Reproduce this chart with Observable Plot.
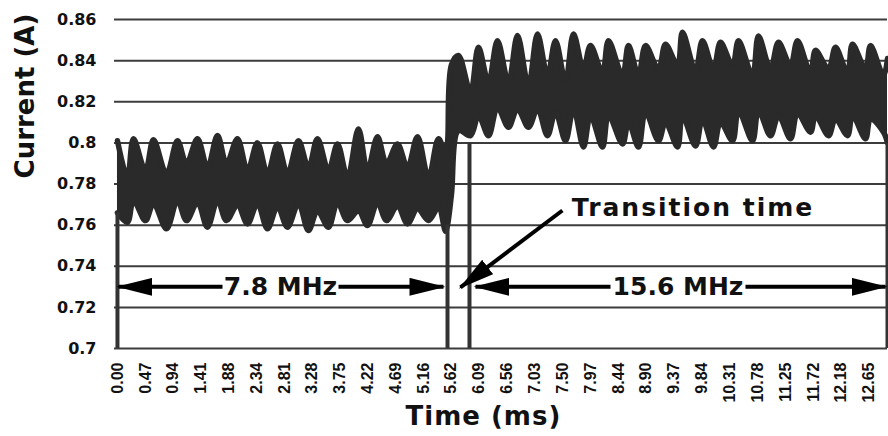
<!DOCTYPE html>
<html>
<head>
<meta charset="utf-8">
<script src="https://cdn.jsdelivr.net/npm/d3@7"></script>
<script src="https://cdn.jsdelivr.net/npm/@observablehq/plot@0.6"></script>
<style>
  body { margin: 0; background: #fff; }
  #chart svg { display: block; }
</style>
</head>
<body>
<div id="chart"></div>
<script>
// ---- Data ----
// Time (ms) of each envelope sample (alternating lobe / notch of the oscillation)
const timeMs = [
  0, 0.168, 0.269, 0.471, 0.606, 0.825, 1.010, 1.162, 1.347, 1.515,
  1.684, 1.835, 2.020, 2.189, 2.357, 2.525, 2.694, 2.862, 3.047, 3.215,
  3.367, 3.552, 3.704, 3.872, 4.057, 4.209, 4.377, 4.529, 4.714, 4.882,
  5.051, 5.236, 5.404, 5.522,
  5.556, 5.623,
  5.741, 5.943, 6.077, 6.246, 6.397, 6.582, 6.734, 6.919, 7.071, 7.239,
  7.374, 7.542, 7.677, 7.845, 7.963, 8.165, 8.266, 8.502, 8.603, 8.771,
  8.889, 9.108, 9.226, 9.428, 9.512, 9.731, 9.848, 10.034, 10.152, 10.354,
  10.455, 10.690, 10.791, 10.993, 11.128, 11.330, 11.448, 11.667, 11.751, 11.970,
  12.088, 12.290, 12.374, 12.593, 12.677, 12.896, 12.963
];
// Upper envelope of the current (A)
const upperA = [
  0.801, 0.7833, 0.802, 0.7866, 0.8015, 0.785, 0.801, 0.790, 0.802, 0.788,
  0.8036, 0.790, 0.802, 0.7866, 0.800, 0.785, 0.7995, 0.785, 0.801, 0.788,
  0.802, 0.7866, 0.7995, 0.7833, 0.8068, 0.7866, 0.803, 0.790, 0.7995, 0.788,
  0.803, 0.7833, 0.802, 0.795,
  0.800, 0.838,
  0.8425, 0.8247, 0.8465, 0.8295, 0.8497, 0.8295, 0.8522, 0.828, 0.853, 0.8328,
  0.8497, 0.830, 0.853, 0.836, 0.8473, 0.8343, 0.8497, 0.8328, 0.8473, 0.8328,
  0.8473, 0.836, 0.848, 0.8377, 0.8538, 0.835, 0.8497, 0.836, 0.8489, 0.8377,
  0.8497, 0.8328, 0.852, 0.836, 0.8489, 0.8377, 0.8497, 0.834, 0.845, 0.836,
  0.8465, 0.834, 0.848, 0.836, 0.8473, 0.8328, 0.841
];
// Lower envelope of the current (A)
const lowerA = [
  0.766, 0.7614, 0.772, 0.7622, 0.7705, 0.7582, 0.772, 0.7622, 0.771, 0.759,
  0.772, 0.7622, 0.7698, 0.7606, 0.7705, 0.7582, 0.769, 0.759, 0.7705, 0.7574,
  0.767, 0.759, 0.771, 0.7622, 0.767, 0.7598, 0.771, 0.7622, 0.7693, 0.7606,
  0.768, 0.7622, 0.7685, 0.757,
  0.760, 0.775,
  0.806, 0.8035, 0.8133, 0.8035, 0.8173, 0.8076, 0.8166, 0.8076, 0.8166, 0.8035,
  0.815, 0.801, 0.8166, 0.798, 0.8133, 0.798, 0.8135, 0.7995, 0.81, 0.798,
  0.815, 0.801, 0.81, 0.798, 0.8133, 0.7985, 0.8115, 0.798, 0.81, 0.801,
  0.8157, 0.801, 0.8157, 0.8035, 0.8133, 0.802, 0.8145, 0.8052, 0.8133, 0.8035,
  0.8117, 0.8035, 0.8133, 0.802, 0.8117, 0.8052, 0.800
];

const yTicks = [0.7, 0.72, 0.74, 0.76, 0.78, 0.8, 0.82, 0.84, 0.86];
const yTickLabels = ["0.7", "0.72", "0.74", "0.76", "0.78", "0.8", "0.82", "0.84", "0.86"];
const xTicks = [0, 0.47, 0.94, 1.41, 1.88, 2.34, 2.81, 3.28, 3.75, 4.22, 4.69, 5.16, 5.62, 6.09,
  6.56, 7.03, 7.50, 7.97, 8.44, 8.90, 9.37, 9.84, 10.31, 10.78, 11.25, 11.72, 12.18, 12.65];
const xTickLabels = ["0.00", "0.47", "0.94", "1.41", "1.88", "2.34", "2.81", "3.28", "3.75", "4.22",
  "4.69", "5.16", "5.62", "6.09", "6.56", "7.03", "7.50", "7.97", "8.44", "8.90", "9.37", "9.84",
  "10.31", "10.78", "11.25", "11.72", "12.18", "12.65"];

// vertical marker lines (time, top current)
const markerTimes = [0, 5.556, 5.926, 12.963];
const markerTops = [0.766, 0.760, 0.800, 0.800];

// frequency band annotations
const bandLabels = ["7.8 MHz", "15.6 MHz"];
const bandLabelTimes = [2.744, 9.436];
const bandArrowFrom = [1.768, 3.721, 8.300, 10.572];
const bandArrowTo = [0.017, 5.488, 6.027, 12.93];
const bandArrowLevel = 0.73;

// transition annotation
const transitionLabel = "Transition time";
const transitionLabelAt = [9.69, 0.7685];
const transitionArrowFrom = [7.49, 0.7671];
const transitionArrowTo = [5.774, 0.7297];

const xTitle = "Time (ms)";
const yTitle = "Current (A)";

// ---- Build tables ----
const signal = timeMs.map((t, i) => ({t, hi: upperA[i], lo: lowerA[i]}));
const markers = markerTimes.map((t, i) => ({t, top: markerTops[i]}));
const bands = bandLabels.map((s, i) => ({s, t: bandLabelTimes[i]}));
const bandArrows = bandArrowFrom.map((f, i) => ({f, to: bandArrowTo[i]}));
const ink = "#2a2a2a";
const font = "'DejaVu Sans', sans-serif";

const svg = Plot.plot({
  width: 888,
  height: 436,
  marginLeft: 114,
  marginRight: 1,
  marginTop: 19,
  marginBottom: 88,
  x: {domain: [-0.05, 12.963]},
  y: {domain: [0.7, 0.86]},
  style: {fontFamily: font, fontWeight: "bold", color: "#111", background: "#fff", overflow: "visible"},
  marks: [
    Plot.ruleY(yTicks, {stroke: "#3c3c3c", strokeWidth: 2}),
    Plot.areaY(signal, {x: "t", y1: "lo", y2: "hi", fill: ink, curve: "catmull-rom"}),
    Plot.line(signal, {x: "t", y: "hi", stroke: ink, strokeWidth: 5.5, curve: "catmull-rom"}),
    Plot.line(signal, {x: "t", y: "lo", stroke: ink, strokeWidth: 5.5, curve: "catmull-rom"}),
    Plot.ruleX(markers, {x: "t", y1: 0.7, y2: "top", stroke: "#333", strokeWidth: 4}),
    Plot.axisY(yTicks, {
      tickSize: 0, tickPadding: 18, label: null, fontSize: 16,
      tickFormat: (d) => yTickLabels[yTicks.indexOf(d)]
    }),
    Plot.axisX(xTicks, {
      tickSize: 0, tickPadding: 14, tickRotate: -90, label: null, fontSize: 16,
      fontFamily: "'Liberation Sans', sans-serif",
      tickFormat: (d) => xTickLabels[xTicks.indexOf(d)]
    }),
    Plot.link(bandArrows, {
      x1: "f", x2: "to", y1: bandArrowLevel, y2: bandArrowLevel,
      stroke: "#000", strokeWidth: 4, markerEnd: "arrow"
    }),
    Plot.link([0], {
      x1: transitionArrowFrom[0], y1: transitionArrowFrom[1],
      x2: transitionArrowTo[0], y2: transitionArrowTo[1],
      stroke: "#000", strokeWidth: 4, markerEnd: "arrow"
    }),
    Plot.text(bands, {x: "t", y: bandArrowLevel, text: "s", fontSize: 25, fill: "#111", lineAnchor: "middle"}),
    Plot.text([transitionLabel], {
      x: transitionLabelAt[0], y: transitionLabelAt[1], text: (d) => d,
      fontSize: 25, fill: "#111", lineAnchor: "middle"
    }),
    Plot.text([yTitle], {
      frameAnchor: "left", y: 0.7827, text: (d) => d, rotate: -90, dx: -89,
      fontSize: 26, fill: "#111", lineAnchor: "middle"
    }),
    Plot.text([xTitle], {
      frameAnchor: "bottom", x: 6.16, text: (d) => d, dy: 68,
      fontSize: 26, fill: "#111", lineAnchor: "middle"
    })
  ]
});

// filled arrowheads
const defs = d3.select(svg).append("defs");
defs.append("marker")
  .attr("id", "filled-head")
  .attr("viewBox", "-34 -9 36 18")
  .attr("refX", 0).attr("refY", 0)
  .attr("markerWidth", 36).attr("markerHeight", 18)
  .attr("markerUnits", "userSpaceOnUse")
  .attr("orient", "auto")
  .append("path")
  .attr("d", "M2,0L-34,-9L-34,9Z")
  .attr("fill", "#000");
d3.select(svg).selectAll("[marker-end]").attr("marker-end", "url(#filled-head)");

// widen a few labels slightly to match the reference's letter spacing
d3.select(svg).selectAll("text")
  .filter(function () { return this.textContent === transitionLabel; })
  .style("letter-spacing", "2px");
d3.select(svg).selectAll("text")
  .filter(function () { return this.textContent === xTitle; })
  .style("letter-spacing", "1px");

document.getElementById("chart").appendChild(svg);
</script>
</body>
</html>
